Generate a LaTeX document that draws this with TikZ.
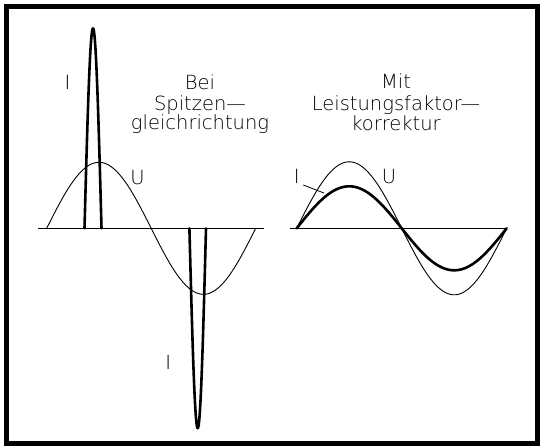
\documentclass[tikz,border=0pt]{standalone}
\usepackage{fontspec}
\setmainfont{DejaVu Sans ExtraLight}
\begin{document}
\begin{tikzpicture}[x=1pt,y=-1pt,
  lbl/.style={font=\fontsize{19.5}{20}\selectfont, inner sep=0pt, anchor=base},
  thin curve/.style={line width=0.9pt, line join=round},
  thick curve/.style={line width=2.6pt, line join=round, line cap=round},
  axisline/.style={line width=0.9pt}]
\useasboundingbox (0,0) rectangle (542,448);
% frame
\draw[line width=4.6pt] (6.5,6.2) rectangle (537.5,443.5);
% axes
\coordinate (la) at (38.3,228.3); \coordinate (lb) at (263.5,228.3);
\coordinate (ra) at (290,228.3);  \coordinate (rb) at (506.7,228.3);
\draw[axisline] (la) -- (lb);
\draw[axisline] (ra) -- (rb);
% left: voltage
\draw[thin curve] plot[domain=46.7:255.7, samples=120, smooth] (\x,{228.3-66*sin(((\x-46.7)/209)*360)});
% left: current pulses
\draw[thick curve] plot[domain=84.5:101.5, samples=40, smooth] (\x,{228.3-200*cos(((\x-93)/17)*180)});
\draw[thick curve] plot[domain=189.4:206.0, samples=40, smooth] (\x,{228.3+200*cos(((\x-197.7)/16.6)*180)});
% right: voltage and current
\draw[thin curve] plot[domain=296.7:506.7, samples=120, smooth] (\x,{228.3-66.5*sin(((\x-296.7)/210)*360)});
\draw[thick curve] plot[domain=296.7:506.7, samples=120, smooth] (\x,{228.3-42*sin(((\x-296.7)/210)*360)});
% labels left
\node[lbl] (il1) at (67.4,89.3) {I};
\node[lbl] (ul) at (137.5,184) {U};
\node[lbl] (il2) at (168.3,369) {I};
\node[lbl] (t1a) at (200,89.3) {Bei};
\node[lbl] (t1b) at (200,110.5) {Spitzen—};
\node[lbl] (t1c) at (200,129.5) {gleichrichtung};
% labels right
\node[lbl] (ir) at (296.7,183) {I};
\node[lbl] (ur) at (389,183) {U};
\node[lbl] (t2a) at (396,88.5) {Mit};
\node[lbl] (t2b) at (396,110) {Leistungsfaktor—};
\node[lbl] (t2c) at (396,130) {korrektur};
% leader for I
\coordinate (lead1) at (303.3,185);
\coordinate (lead2) at (324,193);
\draw[line width=0.8pt] (lead1) -- (lead2);
\end{tikzpicture}
\end{document}
